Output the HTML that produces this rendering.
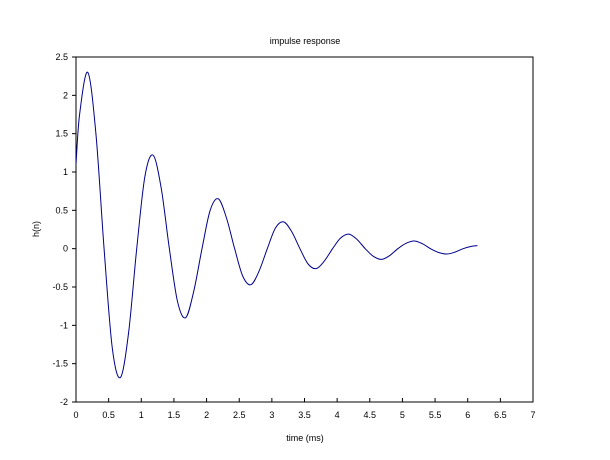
<!DOCTYPE html>
<html><head><meta charset="utf-8"><style>
body{margin:0;background:#fff;}
svg{display:block;font-family:"Liberation Sans",Arial,sans-serif;}
</style></head><body>
<svg id="chart" width="610" height="460">
<rect width="610" height="460" fill="#fff"/>
<text x="305" y="44" font-size="9" text-anchor="middle">impulse response</text>
<text x="305" y="441" font-size="9" text-anchor="middle">time (ms)</text>
<text x="0" y="0" font-size="9" text-anchor="middle" transform="translate(39,229) rotate(-90)">h(n)</text>
<rect x="76" y="57" width="457" height="345" fill="none" stroke="#000" stroke-width="1"/>
<g id="ticks"></g>
<path id="line" fill="none" stroke="#00008b" stroke-width="1"/>
</svg>
<script>
const xTicks=[0,0.5,1,1.5,2,2.5,3,3.5,4,4.5,5,5.5,6,6.5,7];
const xTickLabels=["0","0.5","1","1.5","2","2.5","3","3.5","4","4.5","5","5.5","6","6.5","7"];
const yTicks=[-2,-1.5,-1,-0.5,0,0.5,1,1.5,2,2.5];
const yTickLabels=["-2","-1.5","-1","-0.5","0","0.5","1","1.5","2","2.5"];
const times=[0,0.055,0.18,0.305,0.43,0.555,0.68,0.805,0.93,1.055,1.18,1.305,1.43,1.555,1.68,1.805,1.93,2.055,2.18,2.305,2.43,2.555,2.68,2.805,2.93,3.055,3.18,3.305,3.43,3.555,3.68,3.805,3.93,4.055,4.18,4.305,4.43,4.555,4.68,4.805,4.93,5.055,5.18,5.305,5.43,5.555,5.68,5.805,5.93,6.055,6.15];
const values=[1.1,1.75,2.3,1.5,0,-1.29,-1.68,-1.1,0,0.94,1.22,0.79,0,-0.69,-0.9,-0.55,0,0.5,0.65,0.4,0,-0.36,-0.47,-0.29,0,0.27,0.35,0.22,0,-0.2,-0.26,-0.16,0,0.14,0.19,0.12,0,-0.1,-0.14,-0.09,0,0.07,0.1,0.065,0,-0.05,-0.07,-0.045,0,0.03,0.04];
const X0=76,X1=533,Y0=402,Y1=57;
const sx=v=>X0+(v-0)/(7-0)*(X1-X0);
const sy=v=>Y0-(v+2)/(4.5)*(Y0-Y1);
const NS="http://www.w3.org/2000/svg";
const g=document.getElementById('ticks');
xTicks.forEach((v,i)=>{
  const l=document.createElementNS(NS,'line');
  l.setAttribute('x1',sx(v));l.setAttribute('x2',sx(v));l.setAttribute('y1',Y0);l.setAttribute('y2',Y0-4);l.setAttribute('stroke','#000');
  
  
  g.appendChild(l);
  const t=document.createElementNS(NS,'text');
  t.setAttribute('x',sx(v));t.setAttribute('y',Y0+16);t.setAttribute('font-size','9');t.setAttribute('text-anchor','middle');
  t.textContent=xTickLabels[i];
  
  
  g.appendChild(t);
});
yTicks.forEach((v,i)=>{
  const l=document.createElementNS(NS,'line');
  l.setAttribute('x1',X0-4);l.setAttribute('x2',X0);l.setAttribute('y1',sy(v));l.setAttribute('y2',sy(v));l.setAttribute('stroke','#000');
  
  
  g.appendChild(l);
  const t=document.createElementNS(NS,'text');
  t.setAttribute('x',X0-8);t.setAttribute('y',sy(v)+3);t.setAttribute('font-size','9');t.setAttribute('text-anchor','end');
  t.textContent=yTickLabels[i];
  
  
  g.appendChild(t);
});
const P=times.map((t,i)=>[sx(t),sy(values[i])]);
let d='M'+P[0][0]+','+P[0][1];
for(let i=0;i<P.length-1;i++){
  const p0=P[Math.max(i-1,0)],p1=P[i],p2=P[i+1],p3=P[Math.min(i+2,P.length-1)];
  const c1=[p1[0]+(p2[0]-p0[0])/6,p1[1]+(p2[1]-p0[1])/6];
  const c2=[p2[0]-(p3[0]-p1[0])/6,p2[1]-(p3[1]-p1[1])/6];
  d+=' C'+c1+' '+c2+' '+p2;
}
document.getElementById('line').setAttribute('d',d);
</script>
</body></html>
